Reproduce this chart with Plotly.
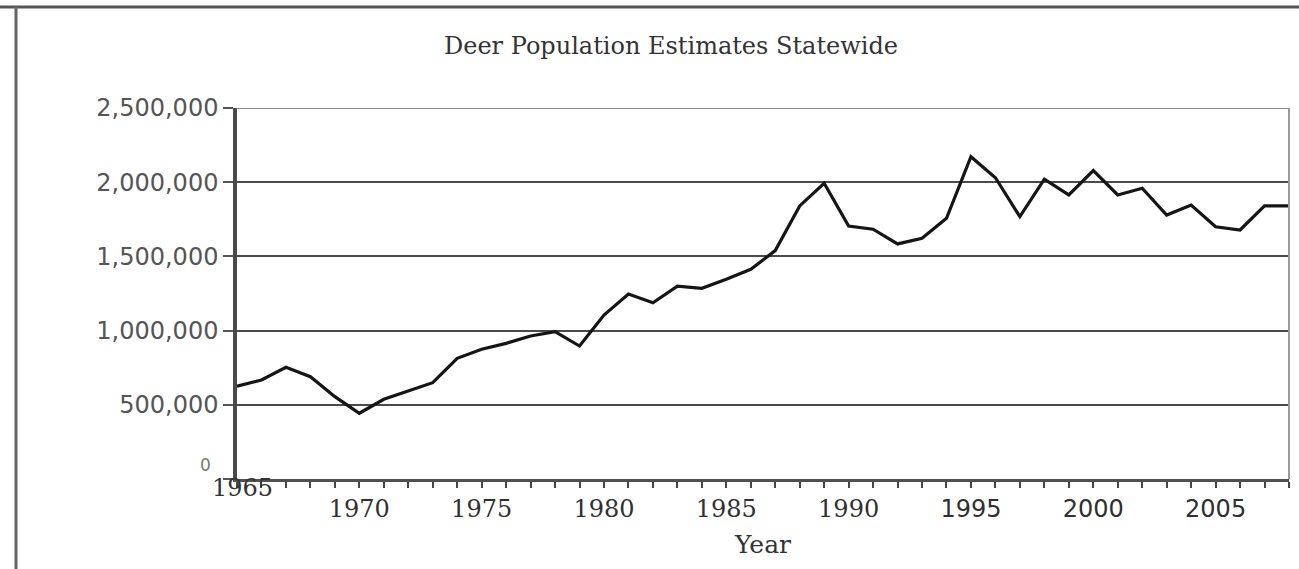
import plotly.graph_objects as go

# Statewide deer population estimates, 1965-2008
years = list(range(1965, 2009))
population = [
    625000, 667000, 753000, 689000, 555000, 443000, 537000, 595000, 649000, 813000,
    874000, 914000, 964000, 993000, 896000, 1105000, 1247000, 1188000, 1300000, 1285000,
    1346000, 1413000, 1539000, 1840000, 1993000, 1705000, 1683000, 1584000, 1622000, 1757000,
    2172000, 2030000, 1768000, 2020000, 1914000, 2078000, 1914000, 1959000, 1779000, 1846000,
    1700000, 1678000, 1840000, 1840000,
]

y_ticks = [0, 500000, 1000000, 1500000, 2000000, 2500000]
y_tick_labels = ["", "500,000", "1,000,000", "1,500,000", "2,000,000", "2,500,000"]
x_label_years = [1970, 1975, 1980, 1985, 1990, 1995, 2000, 2005]

title_text = "Deer Population Estimates Statewide"
x_title = "Year"

SERIF = "DejaVu Serif"
SANS = "DejaVu Sans"


def x_tick_text(yr):
    if yr not in x_label_years:
        return ""
    if yr >= 1995:
        return f'<span style="font-family:{SANS}">{yr}</span>'
    return str(yr)


fig = go.Figure()
fig.add_trace(go.Scatter(
    x=years, y=population, mode="lines",
    line=dict(color="#151515", width=3.2),
    showlegend=False, hoverinfo="x+y",
))

fig.update_layout(
    width=1299, height=569, autosize=False,
    margin=dict(l=237, r=10, t=108, b=90),
    paper_bgcolor="white", plot_bgcolor="white",
    title=dict(
        text=title_text, xref="container", yref="container",
        x=671 / 1299, y=1 - 46 / 569, xanchor="center", yanchor="middle",
        font=dict(family=SERIF, size=24, color="#333333"),
    ),
    xaxis=dict(
        range=[1965, 2008], tickmode="array", tickvals=years,
        ticktext=[x_tick_text(y) for y in years],
        ticks="outside", ticklen=6, tickwidth=2, tickcolor="#444444",
        showline=True, linecolor="#505050", linewidth=3,
        showgrid=False, zeroline=False,
        tickfont=dict(family=SERIF, size=24, color="#303030"),
        title=dict(text=x_title, font=dict(family=SERIF, size=25, color="#333333"), standoff=14),
    ),
    yaxis=dict(
        range=[0, 2500000], tickmode="array", tickvals=y_ticks, ticktext=y_tick_labels,
        ticks="outside", ticklen=10, tickwidth=2, tickcolor="#555555",
        showline=True, linecolor="#4a4a4a", linewidth=3.5,
        showgrid=True, gridcolor="#4a4a4a", gridwidth=2, zeroline=False,
        tickfont=dict(family=SANS, size=24, color="#555555"),
    ),
    shapes=[
        # top edge of the plotting area (2,500,000 gridline)
        dict(type="line", xref="paper", yref="y", x0=0, x1=1, y0=2500000, y1=2500000,
             line=dict(color="#8a8a8a", width=2)),
        # right edge of the plotting area
        dict(type="line", xref="paper", yref="paper", x0=1, x1=1, y0=0, y1=1,
             line=dict(color="#9a9a9a", width=2)),
        # outer frame (top and left)
        dict(type="line", xref="paper", yref="paper", x0=-237 / 1052, x1=1 + 10 / 1052,
             y0=1 + 101 / 371, y1=1 + 101 / 371, line=dict(color="#555555", width=3)),
        dict(type="line", xref="paper", yref="paper", x0=-221 / 1052, x1=-221 / 1052,
             y0=-90 / 371, y1=1 + 101 / 371, line=dict(color="#666666", width=3)),
    ],
    annotations=[
        dict(text="0", xref="paper", yref="y", x=0, y=0, xanchor="right", yanchor="middle",
             xshift=-24, yshift=14, showarrow=False,
             font=dict(family=SANS, size=17, color="#777777")),
        dict(text="1965", xref="x", yref="paper", x=1965, y=0, xanchor="center", yanchor="middle",
             xshift=5, yshift=-9, showarrow=False,
             font=dict(family=SERIF, size=24, color="#333333")),
    ],
)

fig.write_html("out.html")
